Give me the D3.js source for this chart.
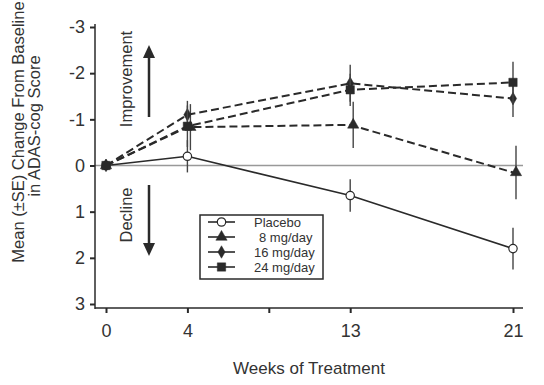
<!DOCTYPE html>
<html>
<head>
<meta charset="utf-8">
<script src="https://d3js.org/d3.v7.min.js"></script>
<style>
  body { margin: 0; background: #fff; }
  text { font-family: "Liberation Sans", Arial, sans-serif; fill: #333; }
</style>
</head>
<body>
<script>
// weeks on the x axis (axis is not linear: 0, 4, 13 and 21 sit on slots 0,1,3,5)
var weeks = [0, 4, 13, 21];
var weekSlots = [0, 1, 3, 5];
var xTickWeeks = [0, 4, 8.5, 13, 21];
var xTickLabels = ["0", "4", "", "13", "21"];
var yTicks = [-3, -2, -1, 0, 1, 2, 3];

// series values (mean change) and SE
var seriesNames = ["Placebo", "8 mg/day", "16 mg/day", "24 mg/day"];
var placebo = [0, -0.2, 0.65, 1.8];
var mg8 = [0, -0.83, -0.88, 0.15];
var mg16 = [0, -1.1, -1.78, -1.45];
var mg24 = [0, -0.85, -1.64, -1.8];
var sePlacebo = [0, 0.35, 0.35, 0.45];
var se8 = [0, 0.5, 0.5, 0.58];
var se16 = [0, 0.3, 0.4, 0.4];
var se24 = [0, 0.45, 0.35, 0.45];

var W = 544, H = 385;
var svg = d3.select("body").append("svg").attr("width", W).attr("height", H);

var slot = d3.scaleLinear().domain([0, 5]).range([106, 513]);
var x = d3.scaleLinear().domain(weeks).range(weekSlots.map(slot));
var y = d3.scaleLinear().domain([-3, 3]).range([27, 304]);

var ink = "#2a2a2a";

// zero reference line
svg.append("line")
    .attr("x1", 95).attr("x2", 523)
    .attr("y1", y(0)).attr("y2", y(0))
    .style("stroke", "#999").style("stroke-width", 1.3);

// y axis
var yAxis = svg.append("g")
    .attr("transform", "translate(95,0)")
    .call(d3.axisLeft(y).tickValues(yTicks)
        .tickFormat(function (d) { return String(d); })
        .tickSize(5).tickSizeOuter(0).tickPadding(5));
yAxis.select(".domain").remove();
yAxis.selectAll(".tick line").style("stroke", ink).style("stroke-width", 2);
yAxis.selectAll(".tick text").style("font-size", "18px").style("fill", "#333");
svg.append("line").attr("x1", 95).attr("x2", 95).attr("y1", 24).attr("y2", 309)
    .style("stroke", ink).style("stroke-width", 1.5);

// x axis
var xAxis = svg.append("g")
    .attr("transform", "translate(0,308)")
    .call(d3.axisBottom(x).tickValues(xTickWeeks)
        .tickFormat(function (d, i) { return xTickLabels[i]; })
        .tickSize(5).tickSizeOuter(0).tickPadding(11));
xAxis.select(".domain").remove();
xAxis.selectAll(".tick line").style("stroke", ink).style("stroke-width", 2);
xAxis.selectAll(".tick text").style("font-size", "18px").style("fill", "#333");
svg.append("line").attr("x1", 95).attr("x2", 523).attr("y1", 308).attr("y2", 308)
    .style("stroke", ink).style("stroke-width", 1.5);

// axis titles
svg.append("text")
    .attr("transform", "translate(24,132) rotate(-90)")
    .attr("text-anchor", "middle")
    .style("font-size", "16.5px")
    .text("Mean (\u00b1SE) Change From Baseline");
svg.append("text")
    .attr("transform", "translate(40,126) rotate(-90)")
    .attr("text-anchor", "middle")
    .style("font-size", "16.5px")
    .text("in ADAS-cog Score");
svg.append("text")
    .attr("x", 309).attr("y", 374)
    .attr("text-anchor", "middle")
    .style("font-size", "17px")
    .text("Weeks of Treatment");

// improvement / decline annotations
svg.append("text")
    .attr("transform", "translate(132,79) rotate(-90)")
    .attr("text-anchor", "middle")
    .style("font-size", "16.5px")
    .text("Improvement");
svg.append("text")
    .attr("transform", "translate(132,215) rotate(-90)")
    .attr("text-anchor", "middle")
    .style("font-size", "16.5px")
    .text("Decline");
svg.append("line").attr("x1", 149).attr("x2", 149).attr("y1", 117).attr("y2", 56)
    .style("stroke", ink).style("stroke-width", 2.5);
svg.append("path").attr("d", "M149,45 L155,58 L143,58 Z").style("fill", ink);
svg.append("line").attr("x1", 149).attr("x2", 149).attr("y1", 185).attr("y2", 245)
    .style("stroke", ink).style("stroke-width", 2.5);
svg.append("path").attr("d", "M149,256 L155,243 L143,243 Z").style("fill", ink);

// series
var series = [
    { name: seriesNames[0], vals: placebo, se: sePlacebo, dash: null, symbol: "circle", dx: 0 },
    { name: seriesNames[1], vals: mg8, se: se8, dash: "8,4", symbol: "triangle", dx: 3 },
    { name: seriesNames[2], vals: mg16, se: se16, dash: "8,4", symbol: "diamond", dx: 0 },
    { name: seriesNames[3], vals: mg24, se: se24, dash: "8,4", symbol: "square", dx: 0 }
];

function symbolPath(kind) {
    if (kind === "triangle") return d3.symbol().type(d3.symbolTriangle).size(55)();
    if (kind === "diamond") return d3.symbol().type(d3.symbolDiamond).size(45)();
    if (kind === "square") return d3.symbol().type(d3.symbolSquare).size(70)();
    return d3.symbol().type(d3.symbolCircle).size(55)();
}

var line = d3.line()
    .x(function (d) { return x(d.w); })
    .y(function (d) { return y(d.v); });

series.forEach(function (s) {
    var pts = weeks.map(function (w, i) { return { w: w, v: s.vals[i], se: s.se[i] }; });

    // error bars
    svg.append("g").selectAll("line")
        .data(pts.filter(function (d) { return d.se > 0; }))
        .join("line")
        .attr("x1", function (d) { return x(d.w) + s.dx; })
        .attr("x2", function (d) { return x(d.w) + s.dx; })
        .attr("y1", function (d) { return y(d.v - d.se); })
        .attr("y2", function (d) { return y(d.v + d.se); })
        .style("stroke", "#444").style("stroke-width", 1.4);

    svg.append("path")
        .datum(pts)
        .attr("d", line)
        .style("fill", "none")
        .style("stroke", ink)
        .style("stroke-width", s.dash ? 2 : 1.6)
        .style("stroke-dasharray", s.dash);

    svg.append("g").selectAll("path")
        .data(pts)
        .join("path")
        .attr("transform", function (d) { return "translate(" + (x(d.w) + (d.w ? s.dx : 0)) + "," + y(d.v) + ")"; })
        .attr("d", symbolPath(s.symbol))
        .style("fill", s.symbol === "circle" ? "#fff" : ink)
        .style("stroke", ink)
        .style("stroke-width", s.symbol === "circle" ? 1.2 : 0.5);
});

// legend
var lg = svg.append("g");
lg.append("rect")
    .attr("x", 200).attr("y", 215).attr("width", 123).attr("height", 64)
    .style("fill", "#fff").style("stroke", ink).style("stroke-width", 1.5);
series.forEach(function (s, i) {
    var ly = 222 + i * 15;
    lg.append("line").attr("x1", 208).attr("x2", 235).attr("y1", ly).attr("y2", ly)
        .style("stroke", ink).style("stroke-width", 1.6);
    lg.append("path")
        .attr("transform", "translate(221.5," + ly + ")")
        .attr("d", symbolPath(s.symbol))
        .style("fill", s.symbol === "circle" ? "#fff" : ink)
        .style("stroke", ink)
        .style("stroke-width", s.symbol === "circle" ? 1.2 : 0.5);
    lg.append("text")
        .attr("x", i === 1 ? 259 : 254).attr("y", ly + 5)
        .style("font-size", "13px")
        .text(s.name);
});
</script>
</body>
</html>
